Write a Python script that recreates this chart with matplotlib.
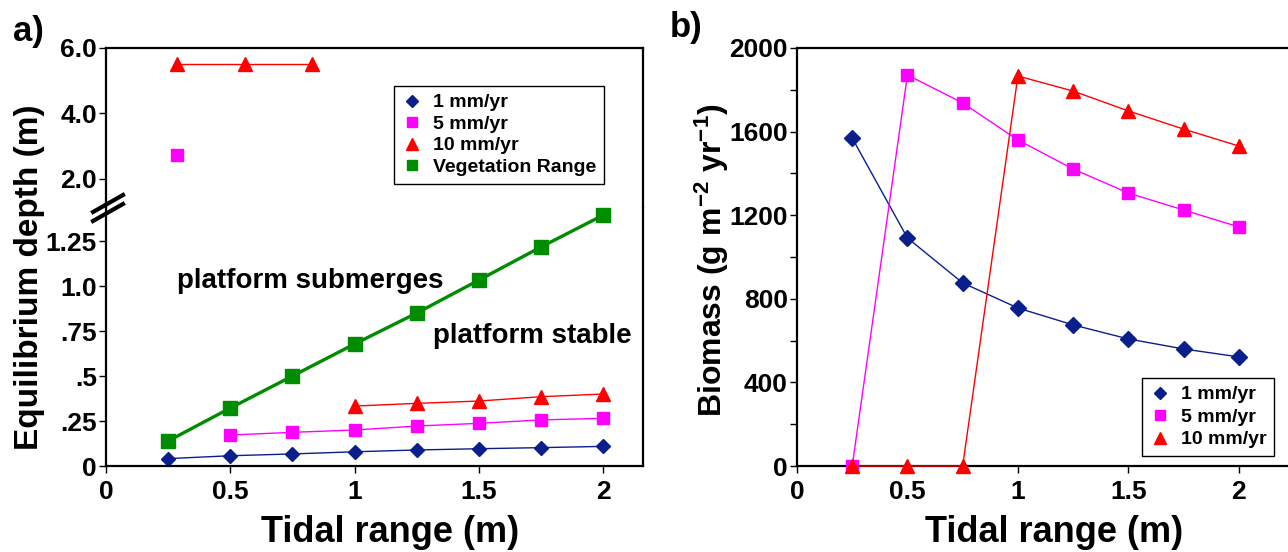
import numpy as np
import matplotlib
matplotlib.use('Agg')
import matplotlib.pyplot as plt
from matplotlib.lines import Line2D

plt.rcParams['font.family'] = ['Liberation Sans', 'DejaVu Sans']
plt.rcParams['font.weight'] = 'bold'
plt.rcParams['mathtext.fontset'] = 'custom'
plt.rcParams['mathtext.rm'] = 'Liberation Sans:bold'
plt.rcParams['mathtext.bf'] = 'Liberation Sans:bold'
plt.rcParams['mathtext.default'] = 'bf'

W, H = 1288, 552

# ---- panel a) equilibrium depth ----
tide = [0.25, 0.5, 0.75, 1.0, 1.25, 1.5, 1.75, 2.0]
depth_1mm = [0.041, 0.057, 0.067, 0.079, 0.089, 0.096, 0.102, 0.109]
tide_5mm = [0.5, 0.75, 1.0, 1.25, 1.5, 1.75, 2.0]
depth_5mm = [0.172, 0.187, 0.200, 0.222, 0.237, 0.256, 0.265]
tide_10mm = [1.0, 1.25, 1.5, 1.75, 2.0]
depth_10mm = [0.333, 0.348, 0.361, 0.385, 0.400]
veg_range = [0.139, 0.322, 0.500, 0.678, 0.850, 1.033, 1.217, 1.394]
# drowned platforms (upper, broken part of the axis)
tide_10mm_hi = [0.285, 0.56, 0.83]
depth_10mm_hi = [5.5, 5.5, 5.5]
tide_5mm_hi = [0.285]
depth_5mm_hi = [2.74]

# ---- panel b) biomass ----
bio_1mm = [1569, 1091, 876, 756, 675, 608, 560, 522]
bio_5mm = [0, 1871, 1737, 1560, 1421, 1306, 1225, 1144]
bio_10mm = [0, 0, 0, 1866, 1794, 1699, 1612, 1531]

C1 = '#0A1E8C'
C5 = '#FF00FF'
C10 = '#FF0000'
CV = '#008C00'

TICK_FS = 19
LAB_FS = 24
XLAB_FS = 26


def px_rect(l, t, r, b):
    return [l / W, 1 - b / H, (r - l) / W, (b - t) / H]


def style_ax(ax):
    for s in ax.spines.values():
        s.set_linewidth(1.6)
    ax.tick_params(direction='out', length=5, width=1.0, labelsize=TICK_FS)
    ax.tick_params(axis='y', pad=1.5)
    ax.tick_params(axis='x', pad=5)


fig = plt.figure(figsize=(W / 100, H / 100), dpi=100)

# ===== panel a =====
ax_lo = fig.add_axes(px_rect(106, 207, 643, 466))
ax_hi = fig.add_axes(px_rect(106, 48, 643, 207))
for ax in (ax_lo, ax_hi):
    style_ax(ax)
    ax.set_xlim(0, 2.16)

ax_lo.spines['top'].set_visible(False)
ax_hi.spines['bottom'].set_visible(False)
ax_hi.tick_params(bottom=False, labelbottom=False)
ax_lo.tick_params(right=False, top=False)

ax_lo.set_ylim(0, 1.439)
ax_lo.set_yticks([0, 0.25, 0.5, 0.75, 1.0, 1.25])
ax_lo.set_yticklabels(['0', '.25', '.5', '.75', '1.0', '1.25'])
ax_lo.set_xticks([0, 0.5, 1, 1.5, 2])
ax_lo.set_xticklabels(['0', '0.5', '1', '1.5', '2'])

ax_hi.set_ylim(1.145, 6.0)
ax_hi.set_yticks([2.0, 4.0, 6.0])
ax_hi.set_yticklabels(['2.0', '4.0', '6.0'])

ax_lo.plot(tide, depth_1mm, color=C1, lw=1.0, marker='D', ms=7.5, mec=C1, mfc=C1)
ax_lo.plot(tide_5mm, depth_5mm, color=C5, lw=1.0, marker='s', ms=9, mec=C5, mfc=C5)
ax_lo.plot(tide_10mm, depth_10mm, color=C10, lw=1.0, marker='^', ms=10, mec=C10, mfc=C10)
ax_lo.plot(tide, veg_range, color=CV, lw=2.4, marker='s', ms=9.5, mec=CV, mfc=CV)

ax_hi.plot(tide_10mm_hi, depth_10mm_hi, color=C10, lw=1.0, marker='^', ms=10, mec=C10, mfc=C10)
ax_hi.plot(tide_5mm_hi, depth_5mm_hi, color=C5, lw=0, marker='s', ms=9, mec=C5, mfc=C5)

ax_lo.text((177 - 106) / 248.75, 1.028, 'platform submerges', fontsize=20,
           ha='left', va='center')
ax_lo.text((433 - 106) / 248.75, 0.722, 'platform stable', fontsize=20,
           ha='left', va='center')

handles_a = [
    Line2D([], [], ls='none', marker='D', color=C1, ms=6, label='1 mm/yr'),
    Line2D([], [], ls='none', marker='s', color=C5, ms=7, label='5 mm/yr'),
    Line2D([], [], ls='none', marker='^', color=C10, ms=8, label='10 mm/yr'),
    Line2D([], [], ls='none', marker='s', color=CV, ms=7, label='Vegetation Range'),
]
leg = ax_hi.legend(handles=handles_a, loc='upper left', bbox_to_anchor=(394 / W, 1 - 86 / H),
                   bbox_transform=fig.transFigure, borderaxespad=0, fontsize=14,
                   fancybox=False, framealpha=1, edgecolor='black', handlelength=1.0,
                   handletextpad=0.6, labelspacing=0.2, borderpad=0.4)
leg.get_frame().set_linewidth(1.0)

# axis break marks
for dy in (0, 9):
    fig.add_artist(Line2D([93 / W, 123 / W], [1 - (221 - dy) / H, 1 - (204 - dy) / H],
                          color='black', lw=3, transform=fig.transFigure))

fig.text(390 / W, 1 - 533 / H, 'Tidal range (m)', fontsize=XLAB_FS, ha='center', va='center')
fig.text(38 / W, 1 - 277 / H, 'Equilibrium depth (m)', fontsize=LAB_FS, ha='center',
         va='baseline', rotation=90, rotation_mode='anchor')
fig.text(28 / W, 1 - 31 / H, 'a)', fontsize=25, ha='center', va='center')

# ===== panel b =====
axb = fig.add_axes(px_rect(797, 48, 1294, 466))
style_ax(axb)
axb.spines['right'].set_visible(False)
axb.set_xlim(0, 2.25)
axb.set_ylim(0, 2000)
axb.set_xticks([0, 0.5, 1, 1.5, 2])
axb.set_xticklabels(['0', '0.5', '1', '1.5', '2'])
axb.set_yticks([0, 400, 800, 1200, 1600, 2000])
axb.set_yticks([200, 600, 1000, 1400, 1800], minor=True)
axb.tick_params(which='minor', direction='out', length=5, width=1.0)
axb.tick_params(top=False, right=False)

axb.plot(tide, bio_1mm, color=C1, lw=1.0, marker='D', ms=8, mec=C1, mfc=C1, zorder=3)
axb.plot(tide, bio_5mm, color=C5, lw=1.0, marker='s', ms=9, mec=C5, mfc=C5, zorder=3,
         clip_on=False)
axb.plot(tide, bio_10mm, color=C10, lw=1.0, marker='^', ms=10, mec=C10, mfc=C10, zorder=4,
         clip_on=False)

handles_b = [
    Line2D([], [], ls='none', marker='D', color=C1, ms=6, label='1 mm/yr'),
    Line2D([], [], ls='none', marker='s', color=C5, ms=7, label='5 mm/yr'),
    Line2D([], [], ls='none', marker='^', color=C10, ms=8, label='10 mm/yr'),
]
legb = axb.legend(handles=handles_b, loc='upper left', bbox_to_anchor=(1142 / W, 1 - 378 / H),
                  bbox_transform=fig.transFigure, borderaxespad=0, fontsize=14,
                  fancybox=False, framealpha=1, edgecolor='black', handlelength=1.0,
                  handletextpad=0.6, labelspacing=0.25, borderpad=0.4)
legb.get_frame().set_linewidth(1.0)

fig.text(1054 / W, 1 - 533 / H, 'Tidal range (m)', fontsize=XLAB_FS, ha='center', va='center')
fig.text(722 / W, 1 - 260 / H, 'Biomass (g m$^{-2}$ yr$^{-1}$)', fontsize=23, ha='center',
         va='baseline', rotation=90, rotation_mode='anchor')
fig.text(686 / W, 1 - 28 / H, 'b)', fontsize=25, ha='center', va='center')

fig.savefig('out.png', dpi=100, facecolor='white')
